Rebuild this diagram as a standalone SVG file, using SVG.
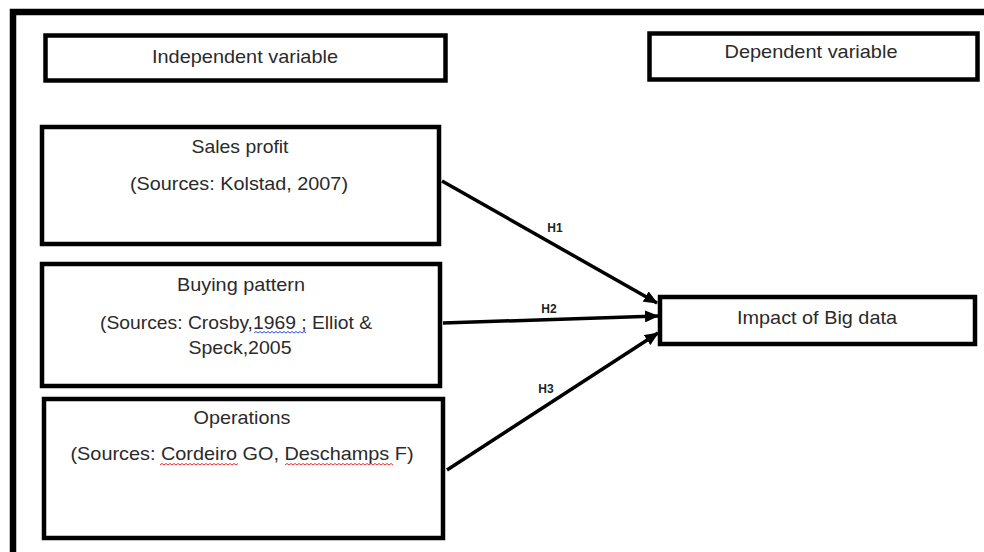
<svg xmlns="http://www.w3.org/2000/svg" width="984" height="552" viewBox="0 0 984 552">
  <defs>
    <marker id="arrow" viewBox="0 0 14 12" refX="13" refY="6" markerWidth="14" markerHeight="12" markerUnits="userSpaceOnUse" orient="auto">
      <path d="M0,0 L14,6 L0,12 Z" fill="#000"/>
    </marker>
    <style>
      .box { fill: #fff; stroke: #000; stroke-width: 4.5; }
      .frame { fill: none; stroke: #000; stroke-width: 6.5; }
      .t { font-family: "Liberation Sans", Arial, sans-serif; font-size: 19px; fill: #2a2a2a; text-anchor: middle; }
      .h { font-family: "Liberation Sans", Arial, sans-serif; font-size: 12px; font-weight: bold; fill: #222; text-anchor: middle; }
      .edge { stroke: #000; stroke-width: 3.5; fill: none; marker-end: url(#arrow); }
      .sq-red { fill: none; stroke: #e03030; stroke-width: 1; }
      .sq-blue { fill: none; stroke: #3050e0; stroke-width: 1; }
    </style>
  </defs>

  <rect width="984" height="552" fill="#fff"/>

  <!-- outer frame: top and left edges -->
  <path class="frame" d="M13,552 V12 H984"/>

  <g id="independent-header">
    <rect class="box" x="45.5" y="35.5" width="400" height="45"/>
    <text class="t" x="245" y="63" textLength="186" lengthAdjust="spacingAndGlyphs">Independent variable</text>
  </g>

  <g id="dependent-header">
    <rect class="box" x="649.5" y="33.5" width="328" height="46"/>
    <text class="t" x="811" y="58" textLength="173" lengthAdjust="spacingAndGlyphs">Dependent variable</text>
  </g>

  <g id="sales-profit">
    <rect class="box" x="42" y="127" width="397" height="117"/>
    <text class="t" x="240" y="153" textLength="97" lengthAdjust="spacingAndGlyphs">Sales profit</text>
    <text class="t" x="239" y="190" textLength="218" lengthAdjust="spacingAndGlyphs">(Sources: Kolstad, 2007)</text>
  </g>

  <g id="buying-pattern">
    <rect class="box" x="42" y="264" width="398" height="122"/>
    <text class="t" x="241" y="291" textLength="128" lengthAdjust="spacingAndGlyphs">Buying pattern</text>
    <text class="t" x="236" y="329" textLength="272" lengthAdjust="spacingAndGlyphs">(Sources: Crosby,1969 ; Elliot &amp;</text>
    <text class="t" x="240" y="354" textLength="103" lengthAdjust="spacingAndGlyphs">Speck,2005</text>
    <!-- spell-check squiggle under ",1969" -->
    <path class="sq-blue" d="M254,333 l2,-1.5 l2,1.5 l2,-1.5 l2,1.5 l2,-1.5 l2,1.5 l2,-1.5 l2,1.5 l2,-1.5 l2,1.5 l2,-1.5 l2,1.5 l2,-1.5 l2,1.5 l2,-1.5 l2,1.5 l2,-1.5 l2,1.5 l2,-1.5 l2,1.5 l2,-1.5 l2,1.5 l2,-1.5 l2,1.5 l2,-1.5 l2,1.5"/>
  </g>

  <g id="operations">
    <rect class="box" x="44" y="399" width="399" height="139"/>
    <text class="t" x="242" y="424" textLength="97" lengthAdjust="spacingAndGlyphs">Operations</text>
    <text class="t" x="242" y="460" textLength="343" lengthAdjust="spacingAndGlyphs">(Sources: Cordeiro GO, Deschamps F)</text>
    <!-- spell-check squiggles under "Cordeiro" and "Deschamps" -->
    <path class="sq-red" d="M160,465 l2,-1.5 l2,1.5 l2,-1.5 l2,1.5 l2,-1.5 l2,1.5 l2,-1.5 l2,1.5 l2,-1.5 l2,1.5 l2,-1.5 l2,1.5 l2,-1.5 l2,1.5 l2,-1.5 l2,1.5 l2,-1.5 l2,1.5 l2,-1.5 l2,1.5 l2,-1.5 l2,1.5 l2,-1.5 l2,1.5 l2,-1.5 l2,1.5 l2,-1.5 l2,1.5 l2,-1.5 l2,1.5 l2,-1.5 l2,1.5 l2,-1.5 l2,1.5 l2,-1.5 l2,1.5 l2,-1.5 l2,1.5 l2,-1.5"/>
    <path class="sq-red" d="M285,465 l2,-1.5 l2,1.5 l2,-1.5 l2,1.5 l2,-1.5 l2,1.5 l2,-1.5 l2,1.5 l2,-1.5 l2,1.5 l2,-1.5 l2,1.5 l2,-1.5 l2,1.5 l2,-1.5 l2,1.5 l2,-1.5 l2,1.5 l2,-1.5 l2,1.5 l2,-1.5 l2,1.5 l2,-1.5 l2,1.5 l2,-1.5 l2,1.5 l2,-1.5 l2,1.5 l2,-1.5 l2,1.5 l2,-1.5 l2,1.5 l2,-1.5 l2,1.5 l2,-1.5 l2,1.5 l2,-1.5 l2,1.5 l2,-1.5 l2,1.5 l2,-1.5 l2,1.5 l2,-1.5 l2,1.5 l2,-1.5 l2,1.5 l2,-1.5 l2,1.5 l2,-1.5 l2,1.5 l2,-1.5 l2,1.5 l2,-1.5 l2,1.5"/>
  </g>

  <g id="impact-of-big-data">
    <rect class="box" x="660" y="297" width="315" height="47"/>
    <text class="t" x="817" y="324" textLength="160" lengthAdjust="spacingAndGlyphs">Impact of Big data</text>
  </g>

  <g id="connectors">
    <line class="edge" x1="442" y1="181" x2="657" y2="303"/>
    <line class="edge" x1="443" y1="323" x2="658" y2="316"/>
    <line class="edge" x1="447" y1="470" x2="658" y2="333"/>
    <text class="h" x="555" y="232">H1</text>
    <text class="h" x="549" y="313">H2</text>
    <text class="h" x="546" y="393">H3</text>
  </g>
</svg>
